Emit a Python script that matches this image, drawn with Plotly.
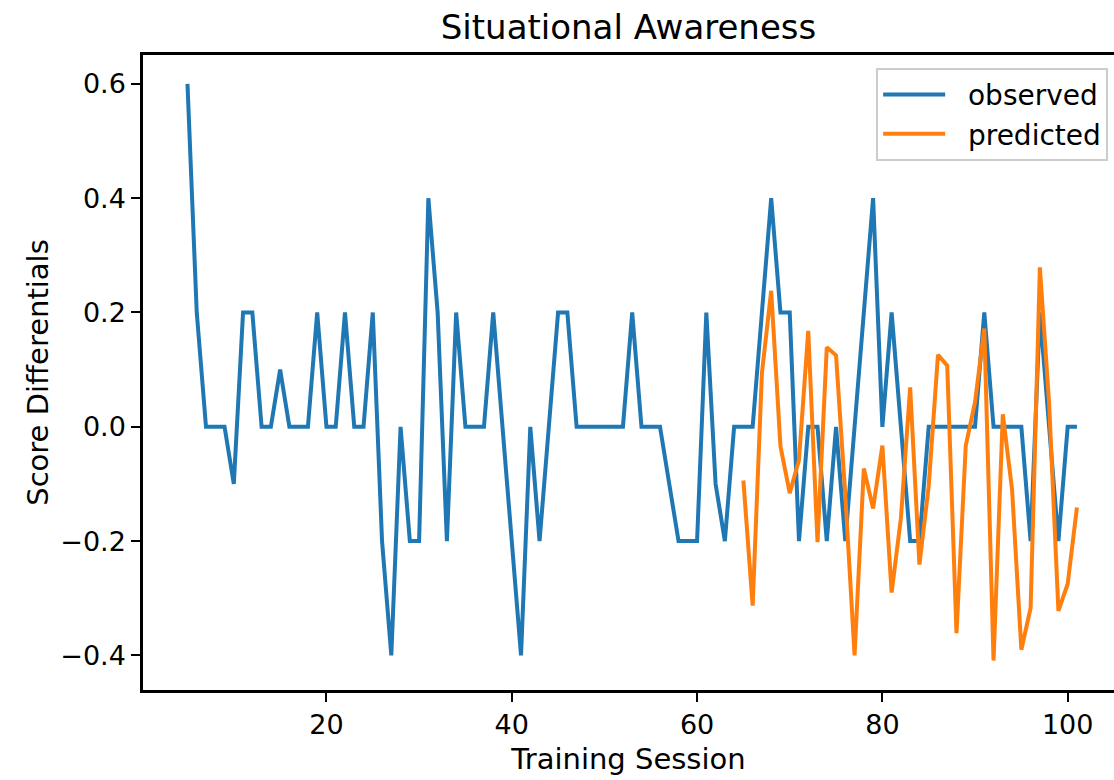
import plotly.graph_objects as go

# ---- data ----
obs_x = list(range(5, 102))
obs_y = [0.6, 0.2, 0, 0, 0, -0.1, 0.2, 0.2, 0, 0,
         0.1, 0, 0, 0, 0.2, 0, 0, 0.2, 0, 0,
         0.2, -0.2, -0.4, 0, -0.2, -0.2, 0.4, 0.2, -0.2, 0.2,
         0, 0, 0, 0.2, 0, -0.2, -0.4, 0, -0.2, 0,
         0.2, 0.2, 0, 0, 0, 0, 0, 0, 0.2, 0,
         0, 0, -0.1, -0.2, -0.2, -0.2, 0.2, -0.1, -0.2, 0,
         0, 0, 0.2, 0.4, 0.2, 0.2, -0.2, 0, 0, -0.2,
         0, -0.2, 0, 0.2, 0.4, 0, 0.2, 0, -0.2, -0.2,
         0, 0, 0, 0, 0, 0, 0.2, 0, 0, 0,
         0, -0.2, 0.2, 0, -0.2, 0, 0]

pred_x = list(range(65, 102))
pred_y = [-0.094, -0.313, 0.094, 0.238, -0.034, -0.116, -0.058, 0.168, -0.202, 0.139,
          0.125, -0.12, -0.40, -0.073, -0.143, -0.033, -0.29, -0.16, 0.069, -0.241,
          -0.104, 0.126, 0.107, -0.361, -0.033, 0.043, 0.172, -0.409, 0.022, -0.110,
          -0.39, -0.317, 0.279, 0.04, -0.322, -0.275, -0.141]

series_names = ["observed", "predicted"]
x_ticks = [20, 40, 60, 80, 100]
y_ticks = [-0.4, -0.2, 0.0, 0.2, 0.4, 0.6]
y_tick_text = ["\u22120.4", "\u22120.2", "0.0", "0.2", "0.4", "0.6"]

FONT = "DejaVu Sans"
PAD = "\u00a0\u00a0"

fig = go.Figure()
fig.add_trace(go.Scatter(x=obs_x, y=obs_y, mode="lines", name=PAD + series_names[0],
                         line=dict(color="#1f77b4", width=4)))
fig.add_trace(go.Scatter(x=pred_x, y=pred_y, mode="lines", name=PAD + series_names[1],
                         line=dict(color="#ff7f0e", width=4)))

fig.update_layout(
    width=1114, height=780,
    margin=dict(l=143, r=0, t=55, b=90),
    paper_bgcolor="white", plot_bgcolor="white",
    font=dict(family=FONT, color="black", size=27),
    title=dict(text="Situational Awareness", x=0.5, xref="paper", xanchor="center",
               y=1 - 27 / 780, yref="container", yanchor="middle",
               font=dict(size=34, family=FONT, color="black")),
    showlegend=True,
    legend=dict(x=0.994, y=0.98, xanchor="right", yanchor="top",
                bgcolor="rgba(255,255,255,0.8)", bordercolor="#cccccc", borderwidth=2,
                font=dict(size=28, family=FONT, color="black"),
                itemwidth=62),
    xaxis=dict(range=[0.2, 105.0], tickvals=x_ticks, showgrid=False, zeroline=False,
               showline=True, linecolor="black", linewidth=2.5, mirror=True,
               ticks="outside", ticklen=9, tickwidth=2, tickcolor="black",
               tickfont=dict(size=27, family=FONT),
               title=dict(text="Training Session", standoff=10,
                          font=dict(size=29, family=FONT))),
    yaxis=dict(range=[-0.4605, 0.6505], tickvals=y_ticks, ticktext=y_tick_text,
               showgrid=False, zeroline=False,
               showline=True, linecolor="black", linewidth=2.5, mirror=False,
               ticks="outside", ticklen=9, tickwidth=2, tickcolor="black",
               tickfont=dict(size=27, family=FONT),
               title=dict(text="Score Differentials", standoff=4,
                          font=dict(size=29, family=FONT))),
)

fig.write_html("out.html")
